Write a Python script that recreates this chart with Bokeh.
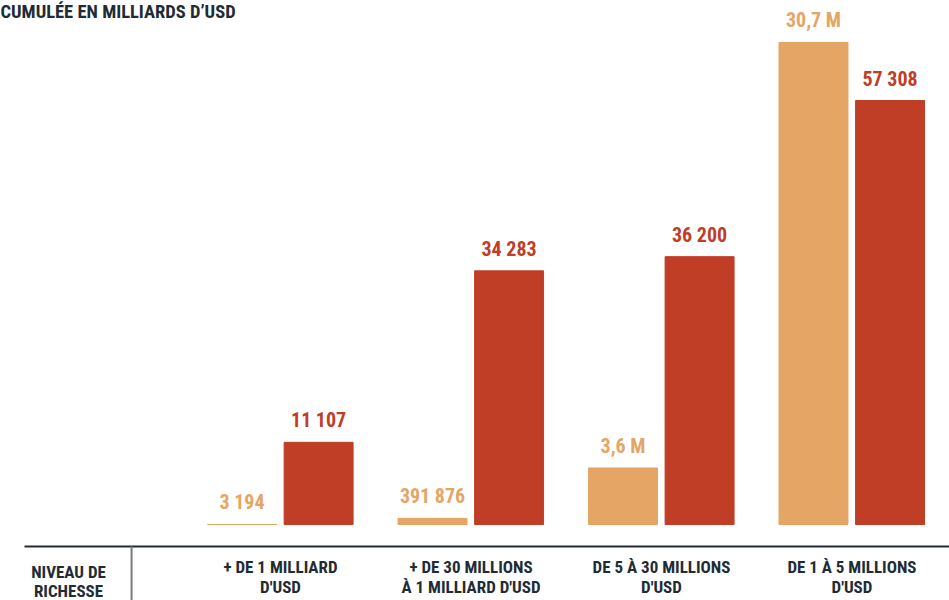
from bokeh.plotting import figure
from bokeh.models import Range1d, ColumnDataSource, LabelSet, Label
from bokeh.transform import dodge
from bokeh.core.properties import value
from bokeh.embed import file_html
from bokeh.resources import INLINE

# ---- data ----
cat_line1 = ["+ DE 1 MILLIARD", "+ DE 30 MILLIONS", "DE 5 À 30 MILLIONS", "DE 1 À 5 MILLIONS"]
cat_line2 = ["D'USD", "À 1 MILLIARD D'USD", "D'USD", "D'USD"]
people = [3194, 391876, 3.6e6, 30.7e6]
people_labels = ["3 194", "391 876", "3,6 M", "30,7 M"]
wealth = [11107, 34283, 36200, 57308]
wealth_labels = ["11 107", "34 283", "36 200", "57 308"]
title_text = "CUMULÉE EN MILLIARDS D’USD"
row_label = ["NIVEAU DE", "RICHESSE"]

FONT = "Roboto Condensed"
ORANGE = "#E5A564"
RED = "#C03D26"
DARK = "#1F2C35"

W, H = 949, 600
x0, x1 = -1.470, 3.512
y0, y1 = -10272, 70824
py0, py1 = -4.841e6, 33.375e6

src = ColumnDataSource(dict(
    x=list(range(len(people))),
    people=people, people_labels=people_labels,
    wealth=wealth, wealth_labels=wealth_labels,
    l1=cat_line1, l2=cat_line2, zero=[0] * len(people),
))

p = figure(width=W, height=H, output_backend="svg", toolbar_location=None,
           x_range=Range1d(x0, x1), y_range=Range1d(y0, y1),
           x_axis_location=None, y_axis_location=None, min_border=0)
p.extra_y_ranges = {"people": Range1d(py0, py1)}
p.grid.visible = False
p.outline_line_color = None
p.background_fill_color = "white"
p.border_fill_color = "white"

bw = 0.362
p.vbar(x=dodge("x", -0.202, range=p.x_range), top="people", bottom=0, width=bw,
       source=src, y_range_name="people", fill_color=ORANGE, line_color=ORANGE, line_width=1)
p.vbar(x=dodge("x", 0.2, range=p.x_range), top="wealth", bottom=0, width=bw,
       source=src, fill_color=RED, line_color=RED, line_width=1)

common = dict(text_font=value(FONT), text_font_style="bold", text_align="center",
              text_baseline="alphabetic", text_font_size=value("20px"))
p.add_layout(LabelSet(x=dodge("x", -0.202, range=p.x_range), y="people", text="people_labels",
                      y_range_name="people", y_offset=15, source=src,
                      text_color=ORANGE, **common))
p.add_layout(LabelSet(x=dodge("x", 0.2, range=p.x_range), y="wealth", text="wealth_labels",
                      y_offset=15, source=src, text_color=RED, **common))

# category labels
cat_style = dict(text_font=value(FONT), text_font_style="bold", text_align="center",
                 text_baseline="alphabetic", text_font_size=value("17px"), text_color=DARK)
p.add_layout(LabelSet(x="x", y="zero", text="l1", y_offset=-48, source=src, **cat_style))
p.add_layout(LabelSet(x="x", y="zero", text="l2", y_offset=-68, source=src, **cat_style))

# row header
hdr_style = dict(text_font=FONT, text_font_style="bold", text_align="center",
                 text_baseline="alphabetic", text_font_size="17px", text_color=DARK)
hx = -1.113
p.add_layout(Label(x=hx, y=0, y_offset=-47, text=row_label[0], **hdr_style))
p.add_layout(Label(x=hx, y=0, y_offset=-66, text=row_label[1], **hdr_style))

# separator lines
line_y = -22 * (y1 - y0) / H
p.segment(x0=[-1.344], y0=[line_y], x1=[x1], y1=[line_y], line_color=DARK, line_width=2)
p.segment(x0=[-0.782], y0=[line_y], x1=[-0.782], y1=[y0], line_color="#7a7a7a", line_width=2)

# title
p.add_layout(Label(x=x0, y=y1, text=title_text, text_font=FONT, text_font_style="bold",
                   text_font_size="18.5px", text_color=DARK, text_baseline="top",
                   text_align="left"))

open("out.html", "w").write(file_html(p, INLINE))
